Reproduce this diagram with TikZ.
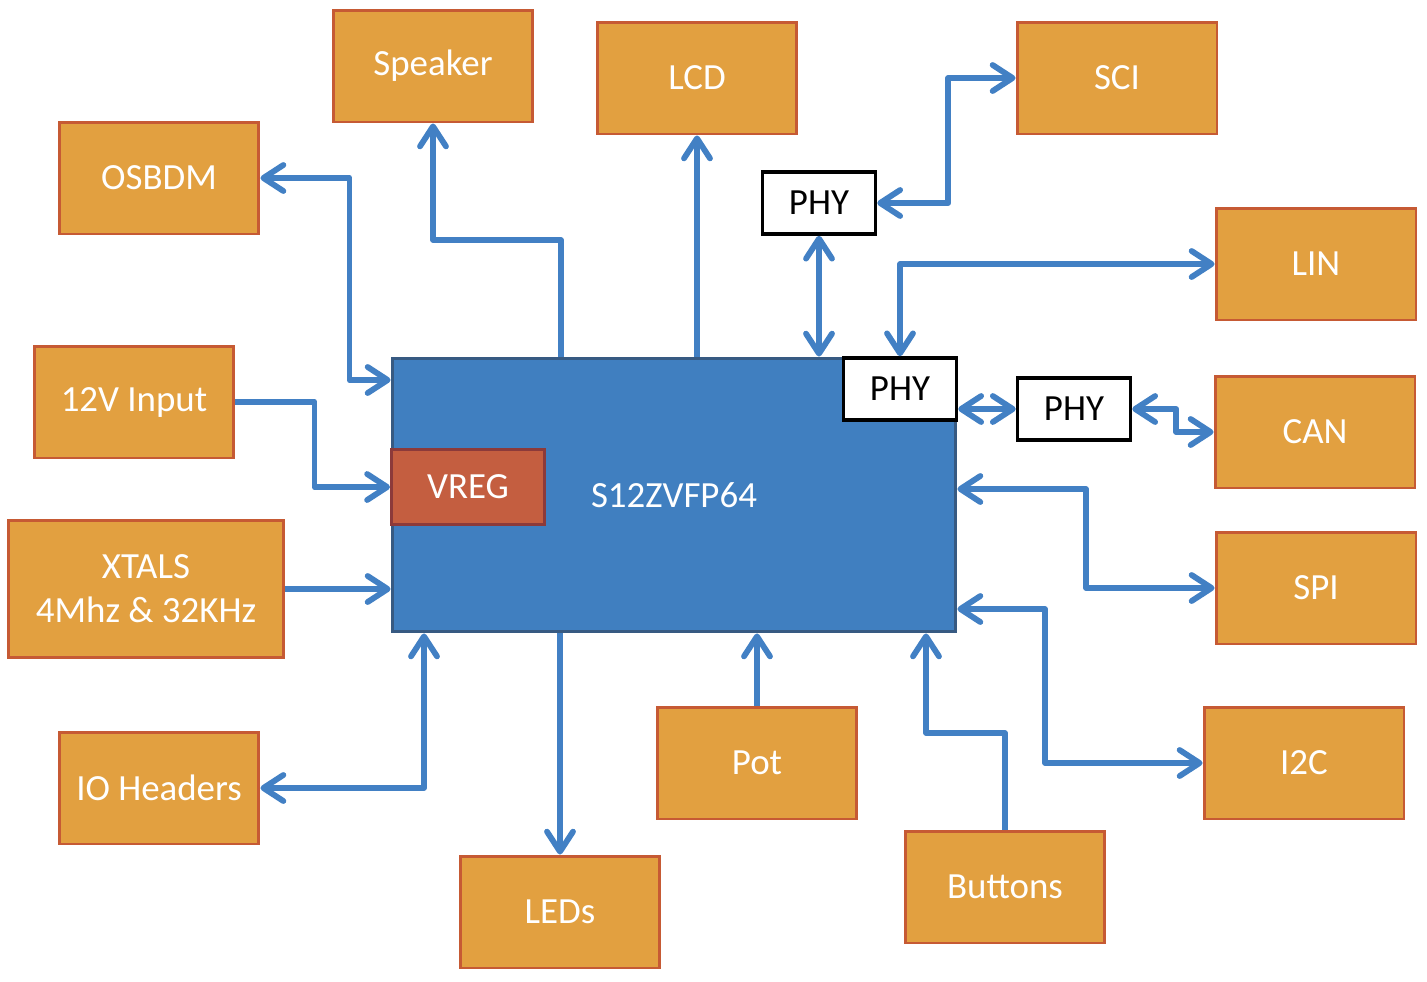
\documentclass[tikz,border=0pt]{standalone}
\usepackage{fontspec}
\setmainfont{Carlito}
\usetikzlibrary{arrows.meta}
\definecolor{unitfill}{RGB}{226,160,64}
\definecolor{unitdraw}{RGB}{198,90,52}
\definecolor{mcufill}{RGB}{64,127,192}
\definecolor{mcudraw}{RGB}{55,90,130}
\definecolor{vregfill}{RGB}{196,94,64}
\definecolor{vregdraw}{RGB}{140,58,58}
\definecolor{wire}{RGB}{66,128,196}

\begin{document}
\begin{tikzpicture}[
  x=0.02cm, y=-0.02cm,
  font=\fontsize{21}{25}\selectfont,
  unit/.style={draw=unitdraw, fill=unitfill, line width=1.7pt, text=white, minimum width=4cm, minimum height=2.24cm, align=center, inner sep=0pt},
  phy/.style={draw=black, fill=white, line width=2pt, minimum width=2.26cm, minimum height=1.24cm, inner sep=0pt},
  tip/.tip={Straight Barb[length=4mm, width=5.2mm, round]},
  ar/.style={-tip, wire, line width=3.3pt, line join=round},
  dar/.style={ar, tip-tip}
]
\useasboundingbox (0,0) rectangle (1427,981);

% controller
\node[draw=mcudraw, fill=mcufill, line width=1.7pt, minimum width=11.28cm, minimum height=5.48cm, text=white] (mcu) at (674,495) {S12ZVFP64};
\node[draw=vregdraw, fill=vregfill, line width=1.7pt, minimum width=3.06cm, minimum height=1.5cm, text=white] (vreg) at (468,487) {VREG};

% peripherals
\node[unit] (speaker) at (433,66) {Speaker};
\node[unit] (lcd) at (697,78) {LCD};
\node[unit] (sci) at (1117,78) {SCI};
\node[unit] (osbdm) at (159,178) {OSBDM};
\node[unit] (lin) at (1316,264) {LIN};
\node[unit] (vin) at (134,402) {12V Input};
\node[unit] (can) at (1315,432) {CAN};
\node[unit, minimum width=5.5cm, minimum height=2.74cm] (xtals) at (146,589) {XTALS\\4Mhz \& 32KHz};
\node[unit] (spi) at (1316,588) {SPI};
\node[unit] (ioh) at (159,788) {IO Headers};
\node[unit] (i2c) at (1304,763) {I2C};
\node[unit] (pot) at (757,763) {Pot};
\node[unit] (leds) at (560,912) {LEDs};
\node[unit] (buttons) at (1005,887) {Buttons};

% transceivers
\node[phy] (phya) at (819,203) {PHY};
\node[phy] (phyb) at (900,389) {PHY};
\node[phy] (phyc) at (1074,409) {PHY};

% connections
\draw[dar] (osbdm.east) -- ++(89,0) |- (mcu.west |- 0,380);
\draw[ar] (mcu.north -| 561,0) |- (433,240) -- (speaker.south);
\draw[ar] (mcu.north -| lcd) -- (lcd.south);
\draw[dar] (phya.south) -- (phya.south |- mcu.north);
\draw[dar] (phya.east) -- ++(71,0) |- (sci.west);
\draw[dar] (phyb.north) |- (lin.west);
\draw[dar] (phyc.west -| phyb.east) -- (phyc.west);
\draw[dar] (phyc.east) -- ++(44,0) |- (can.west);
\draw[dar] (mcu.east |- 0,489) -- (1086,489) |- (spi.west);
\draw[dar] (mcu.east |- 0,609) -- (1045,609) |- (i2c.west);
\draw[ar] (buttons.north) |- (926,733) -- (mcu.south -| 926,0);
\draw[ar] (pot.north) -- (pot.north |- mcu.south);
\draw[ar] (mcu.south -| leds) -- (leds.north);
\draw[dar] (ioh.east) -| (mcu.south -| 424,0);
\draw[ar] (xtals.east) -- (xtals.east -| mcu.west);
\draw[ar] (vin.east) -- ++(79,0) |- (vreg.west);
\end{tikzpicture}
\end{document}
